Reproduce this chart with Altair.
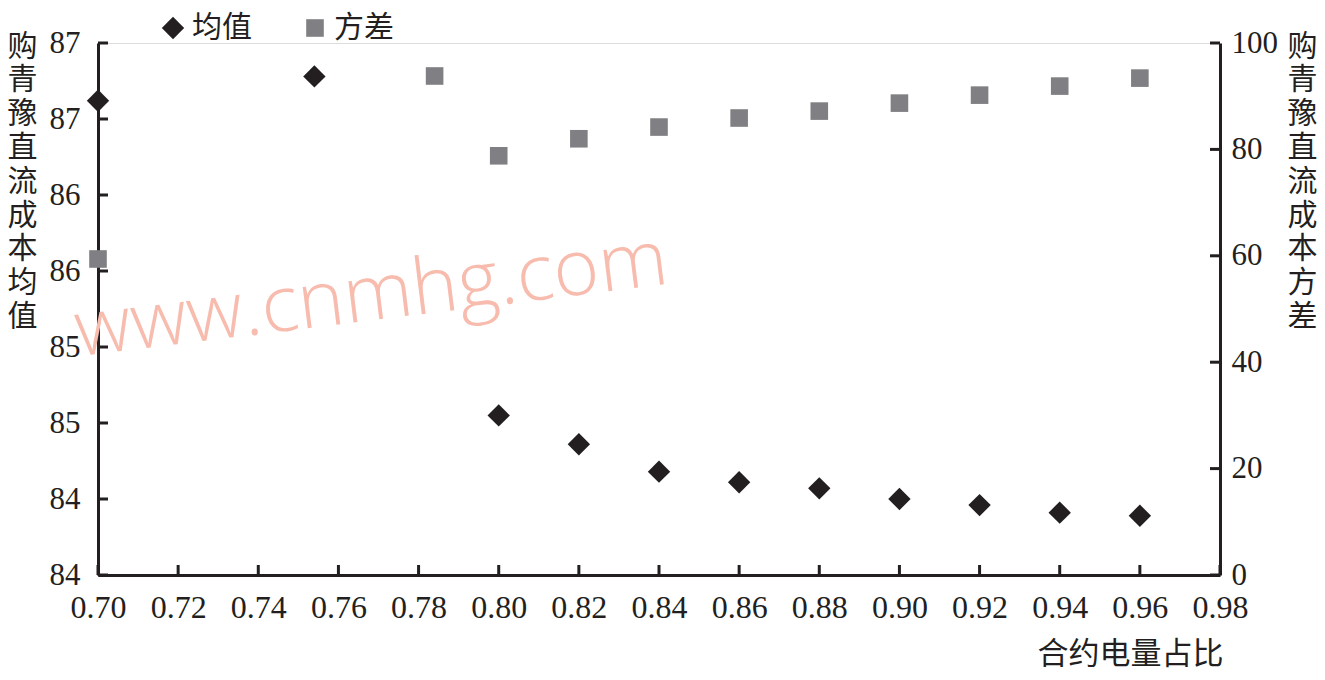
import altair as alt
import pandas as pd

# ---- data ----
mean_x = [0.70, 0.754, 0.80, 0.82, 0.84, 0.86, 0.88, 0.90, 0.92, 0.94, 0.96]
mean_v = [87.12, 87.28, 85.05, 84.86, 84.68, 84.61, 84.57, 84.50, 84.46, 84.41, 84.39]

var_x = [0.70, 0.784, 0.80, 0.82, 0.84, 0.86, 0.88, 0.90, 0.92, 0.94, 0.96]
var_v = [59.4, 93.8, 78.8, 82.0, 84.2, 85.9, 87.2, 88.7, 90.2, 91.9, 93.4]

x_ticks = [0.70, 0.72, 0.74, 0.76, 0.78, 0.80, 0.82, 0.84, 0.86, 0.88, 0.90, 0.92, 0.94, 0.96, 0.98]
left_ticks = [84.0, 84.5, 85.0, 85.5, 86.0, 86.5, 87.0, 87.5]
right_ticks = [0, 20, 40, 60, 80, 100]

series_names = ["均值", "方差"]
left_title = list("购青豫直流成本均值")
right_title = list("购青豫直流成本方差")
x_title = "合约电量占比"
watermark = "www.cnmhg.com"

W, H = 1122, 532
FONT = "Liberation Serif, Noto Sans CJK SC"
CJK = "Noto Sans CJK SC"
INK = "#231f20"

mean_df = pd.DataFrame({"x": mean_x, "v": mean_v, "series": series_names[0]})
var_df = pd.DataFrame({"x": var_x, "v": var_v, "series": series_names[1]})
xt_df = pd.DataFrame({"x": x_ticks})
lt_df = pd.DataFrame({"t": left_ticks})
rt_df = pd.DataFrame({"t": right_ticks})
wm_df = pd.DataFrame({"label": [watermark]})

x_scale = alt.Scale(domain=[0.70, 0.98], nice=False, zero=False)
l_scale = alt.Scale(domain=[84, 87.5], nice=False, zero=False)
r_scale = alt.Scale(domain=[0, 100], nice=False, zero=True)

color = alt.Color("series:N", scale=alt.Scale(domain=series_names, range=[INK, "#808084"]),
                  legend=alt.Legend(title=None, orient="none", legendX=60, legendY=-30,
                                    direction="horizontal", labelFont=CJK, labelFontSize=30,
                                    labelColor=INK, labelOffset=4, columnPadding=48,
                                    symbolStrokeWidth=0))
shape = alt.Shape("series:N", scale=alt.Scale(domain=series_names, range=["diamond", "square"]))
size = alt.Size("series:N", scale=alt.Scale(domain=series_names, range=[500, 310]))

# identical axis object for every layer that shares the x scale
x_axis = alt.Axis(orient="bottom", values=x_ticks, format=".2f", title=x_title, tickSize=0,
                  labelPadding=17, labelFontSize=32, labelFont=FONT, labelColor=INK, grid=False,
                  labelFlush=False, domainColor=INK, domainWidth=3,
                  titleFont=CJK, titleFontSize=31, titleFontWeight="normal", titleColor=INK,
                  titleAlign="right", titleBaseline="middle", titleX=W + 3, titleY=79)

mean_pts = alt.Chart(mean_df).mark_point(filled=True, opacity=1).encode(
    x=alt.X("x:Q", scale=x_scale, axis=x_axis),
    y=alt.Y("v:Q", scale=l_scale,
            axis=alt.Axis(orient="left", values=left_ticks, labelExpr="floor(datum.value)",
                          tickSize=0, labelPadding=18, labelFontSize=31, labelFont=FONT,
                          labelColor=INK, grid=False, domainColor=INK, domainWidth=3,
                          title=left_title, titleAngle=0, titleFont=CJK, titleFontSize=30,
                          titleFontWeight="normal", titleColor=INK, titleLineHeight=33.8,
                          titleAlign="center", titleBaseline="top", titleX=-76, titleY=-12)),
    color=color, shape=shape, size=size,
)

var_pts = alt.Chart(var_df).mark_point(filled=True, opacity=1).encode(
    x=alt.X("x:Q", scale=x_scale, axis=x_axis),
    y=alt.Y("v:Q", scale=r_scale,
            axis=alt.Axis(orient="right", values=right_ticks, format="d", tickSize=0,
                          labelPadding=11, labelFontSize=31, labelFont=FONT, labelColor=INK,
                          grid=False, domainColor=INK, domainWidth=3,
                          title=right_title, titleAngle=0, titleFont=CJK, titleFontSize=30,
                          titleFontWeight="normal", titleColor=INK, titleLineHeight=33.8,
                          titleAlign="center", titleBaseline="top", titleX=82, titleY=-12)),
    color=color, shape=shape, size=size,
)

l_ticks = alt.Chart(lt_df).mark_rule(color=INK, strokeWidth=3).encode(
    y=alt.Y("t:Q", scale=l_scale, axis=None), x=alt.value(0), x2=alt.value(10))

x_tick_marks = alt.Chart(xt_df).mark_rule(color=INK, strokeWidth=3).encode(
    x=alt.X("x:Q", scale=x_scale, axis=x_axis), y=alt.value(H), y2=alt.value(H - 10))

r_ticks = alt.Chart(rt_df).mark_rule(color=INK, strokeWidth=3).encode(
    y=alt.Y("t:Q", scale=r_scale, axis=None), x=alt.value(W), x2=alt.value(W - 10))

wm = alt.Chart(wm_df).mark_text(font="Open Sans", fontSize=78, fontWeight=300, color="#f7bcae",
                                angle=353, align="center", baseline="alphabetic").encode(
    text="label:N", x=alt.value(276), y=alt.value(277))

chart = alt.layer(mean_pts, var_pts, l_ticks, r_ticks, x_tick_marks, wm).resolve_scale(
    y="independent"
).properties(
    width=W, height=H,
    autosize=alt.AutoSizeParams(type="none"),
    padding={"left": 90, "top": 35, "right": 97, "bottom": 97},
).configure_view(strokeWidth=0).configure(background="white")

chart.save("out.html", embed_options={"renderer": "svg", "actions": False})
